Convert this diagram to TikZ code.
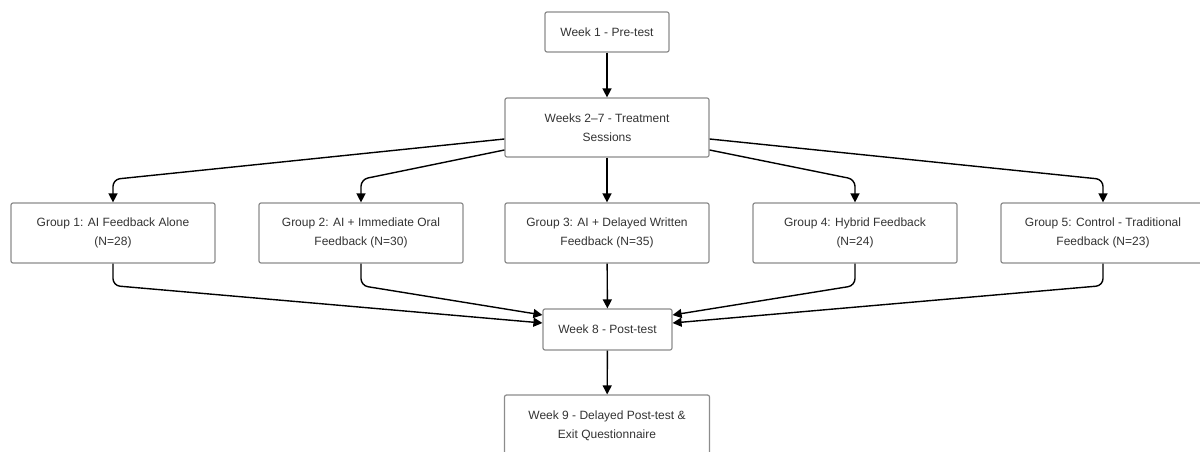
\documentclass[tikz,border=0pt]{standalone}
\usepackage{fontspec}
\setmainfont{Liberation Sans}
\usetikzlibrary{arrows.meta,calc}
\definecolor{txt}{HTML}{333333}
\definecolor{bord}{HTML}{8C8C8C}
\tikzset{
  box/.style={draw=bord, line width=1.2pt, rounded corners=2pt, fill=white,
    text=txt, align=center, inner sep=0pt,
    font=\fontsize{12}{19.5}\selectfont},
  conn/.style={draw=black, line width=1.4pt, rounded corners=7pt,
    -{Triangle[length=9pt,width=9pt]}}
}
\begin{document}
\begin{tikzpicture}[x=1pt,y=-1pt]
\useasboundingbox (0,0) rectangle (1200,452);
\node[box, minimum width=124pt, minimum height=40pt] (w1) at (607,32) {Week 1 - Pre-test};
\node[box, minimum width=204pt, minimum height=59pt] (tr) at (607,127.5) {Weeks 2–7 - Treatment\\Sessions};
\node[box, minimum width=204pt, minimum height=60pt] (g1) at (113,233) {Group 1: AI Feedback Alone\\(N=28)};
\node[box, minimum width=204pt, minimum height=60pt] (g2) at (361,233) {Group 2: AI + Immediate Oral\\Feedback (N=30)};
\node[box, minimum width=204pt, minimum height=60pt] (g3) at (607,233) {Group 3: AI + Delayed Written\\Feedback (N=35)};
\node[box, minimum width=204pt, minimum height=60pt] (g4) at (855,233) {Group 4: Hybrid Feedback\\(N=24)};
\node[box, minimum width=204pt, minimum height=60pt] (g5) at (1103,233) {Group 5: Control - Traditional\\Feedback (N=23)};
\node[box, minimum width=129pt, minimum height=41pt] (pt) at (607.5,329.5) {Week 8 - Post-test};
\node[box, minimum width=205pt, minimum height=62pt] (w9) at (607,426) {Week 9 - Delayed Post-test \&\\Exit Questionnaire};

\draw[conn] (w1) -- (tr);
\draw[conn] ([yshift=-11.5pt]tr.west) -- ([yshift=23pt]g1.north) -- (g1.north);
\draw[conn] ([yshift=-22.5pt]tr.west) -- ([yshift=23pt]g2.north) -- (g2.north);
\draw[conn] (tr) -- (g3);
\draw[conn] ([yshift=-22.5pt]tr.east) -- ([yshift=23pt]g4.north) -- (g4.north);
\draw[conn] ([yshift=-11.5pt]tr.east) -- ([yshift=23pt]g5.north) -- (g5.north);

\draw[conn] (g1.south) -- ([yshift=-22pt]g1.south) -- ([yshift=6.5pt]pt.west);
\draw[conn] (g2.south) -- ([yshift=-22pt]g2.south) -- ([yshift=14.5pt]pt.west);
\draw[conn] (g3) -- (pt);
\draw[conn] (g4.south) -- ([yshift=-22pt]g4.south) -- ([yshift=14.5pt]pt.east);
\draw[conn] (g5.south) -- ([yshift=-22pt]g5.south) -- ([yshift=6.5pt]pt.east);
\draw[conn] (pt) -- (w9);
\end{tikzpicture}
\end{document}
